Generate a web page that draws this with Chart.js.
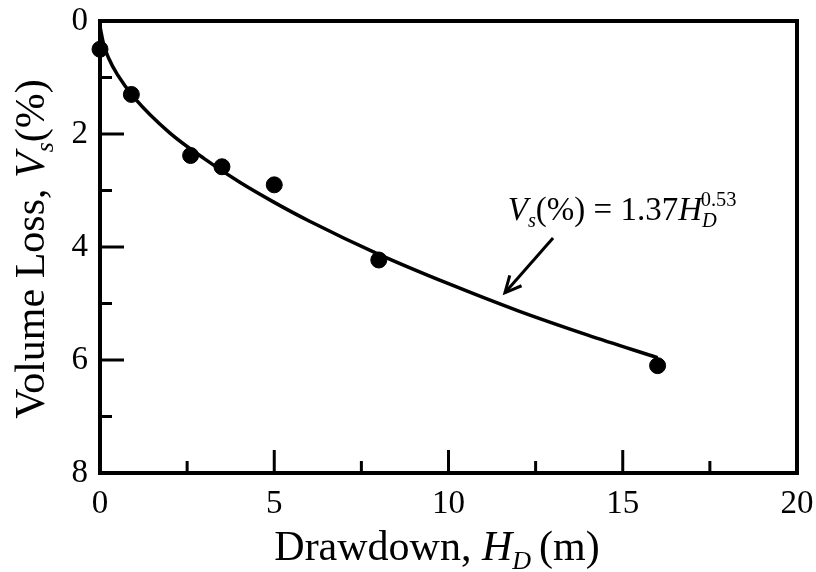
<!DOCTYPE html>
<html>
<head>
<meta charset="utf-8">
<script src="https://cdn.jsdelivr.net/npm/chart.js@4.4.1/dist/chart.umd.min.js"></script>
<style>
  html, body { margin: 0; padding: 0; background: #fff; }
  #wrap { width: 816px; height: 572px; }
</style>
</head>
<body>
<div id="wrap"><canvas id="chart"></canvas></div>
<script>
// Dados
const drawdown = [0, 0.9, 2.6, 3.5, 5, 8, 16];
const volumeLoss = [0.5, 1.3, 2.38, 2.58, 2.9, 4.23, 6.1];

// Curva ajustada
const fitDrawdown = [0, 0.1, 0.25, 0.5, 1, 2, 3, 4, 5, 6, 8, 10, 12, 14, 16];
const fitVolume = [0.1, 0.4, 0.66, 0.95, 1.37, 1.98, 2.44, 2.85, 3.21, 3.54, 4.13, 4.65, 5.13, 5.56, 5.96];

const xTicks = [0, 5, 10, 15, 20];
const yTicks = [0, 2, 4, 6, 8];

const serif = "'Liberation Serif', 'Times New Roman', serif";

// desenha texto com partes em itálico / subscrito / sobrescrito
function richText(ctx, runs, x, y, size, align) {
  const parts = runs.map(r => {
    const s = r.small ? size * 0.62 : size;
    ctx.font = (r.italic ? "italic " : "") + s + "px " + serif;
    return { r, s, w: ctx.measureText(r.t).width };
  });
  const total = parts.reduce((a, p) => a + p.w + (p.r.gap || 0), 0);
  let cx = align === "center" ? x - total / 2 : x;
  parts.forEach(p => {
    ctx.font = (p.r.italic ? "italic " : "") + p.s + "px " + serif;
    let dy = 0;
    if (p.r.sub) dy = size * 0.22;
    if (p.r.sup) dy = -size * 0.42;
    ctx.fillText(p.r.t, cx, y + dy);
    cx += p.w + (p.r.gap || 0);
  });
}

const decorPlugin = {
  id: "decor",
  afterDraw(chart) {
    const ctx = chart.ctx;
    const area = chart.chartArea;
    const xs = chart.scales.x;
    const ys = chart.scales.y;
    ctx.save();
    ctx.strokeStyle = "#000";
    ctx.fillStyle = "#000";

    // ticks para dentro
    ctx.lineWidth = 3;
    ys.ticks.forEach(t => {
      const py = ys.getPixelForValue(t.value);
      const len = t.value % 2 === 0 ? 24 : 12;
      ctx.beginPath();
      ctx.moveTo(area.left, py);
      ctx.lineTo(area.left + len, py);
      ctx.stroke();
    });
    xs.ticks.forEach(t => {
      const px = xs.getPixelForValue(t.value);
      const len = t.value % 5 === 0 ? 23 : 12;
      ctx.beginPath();
      ctx.moveTo(px, area.bottom);
      ctx.lineTo(px, area.bottom - len);
      ctx.stroke();
    });

    // moldura
    ctx.lineWidth = 4;
    ctx.strokeRect(area.left, area.top, area.right - area.left, area.bottom - area.top);

    // título do eixo x
    ctx.textBaseline = "alphabetic";
    richText(ctx, [
      { t: "Drawdown, " },
      { t: "H", italic: true },
      { t: "D", italic: true, small: true, sub: true, gap: 8 },
      { t: "(m)" }
    ], 437, 560, 42, "center");

    // título do eixo y
    ctx.save();
    ctx.translate(44, 249);
    ctx.rotate(-Math.PI / 2);
    richText(ctx, [
      { t: "Volume Loss, " },
      { t: "V", italic: true },
      { t: "s", italic: true, small: true, sub: true },
      { t: "(%)" }
    ], 0, 0, 42, "center");
    ctx.restore();

    // equação
    const ex = xs.getPixelForValue(11.7);
    const ey = ys.getPixelForValue(3.52);
    richText(ctx, [
      { t: "V", italic: true },
      { t: "s", italic: true, small: true, sub: true },
      { t: "(%) = 1.37" },
      { t: "H", italic: true },
      { t: "D", italic: true, small: true, sub: true, gap: -16 },
      { t: "0.53", small: true, sup: true }
    ], ex, ey, 33, "left");

    // seta
    const ax1 = xs.getPixelForValue(13.0), ay1 = ys.getPixelForValue(3.84);
    const ax2 = xs.getPixelForValue(11.62), ay2 = ys.getPixelForValue(4.81);
    ctx.lineWidth = 3;
    ctx.beginPath();
    ctx.moveTo(ax1, ay1);
    ctx.lineTo(ax2, ay2);
    ctx.stroke();
    const ang = Math.atan2(ay2 - ay1, ax2 - ax1);
    ctx.beginPath();
    ctx.moveTo(ax2 - 18 * Math.cos(ang - 0.45), ay2 - 18 * Math.sin(ang - 0.45));
    ctx.lineTo(ax2, ay2);
    ctx.lineTo(ax2 - 18 * Math.cos(ang + 0.45), ay2 - 18 * Math.sin(ang + 0.45));
    ctx.stroke();
    ctx.restore();
  }
};

new Chart(document.getElementById("chart"), {
  type: "scatter",
  data: {
    datasets: [
      {
        label: "fit",
        data: fitDrawdown.map((x, i) => ({ x, y: fitVolume[i] })),
        showLine: true,
        borderColor: "#000",
        borderWidth: 3.5,
        pointRadius: 0,
        cubicInterpolationMode: "monotone"
      },
      {
        label: "medido",
        data: drawdown.map((x, i) => ({ x, y: volumeLoss[i] })),
        pointRadius: 8,
        pointBackgroundColor: "#000",
        pointBorderColor: "#000",
        clip: false
      }
    ]
  },
  plugins: [decorPlugin],
  options: {
    responsive: true,
    maintainAspectRatio: false,
    animation: false,
    layout: { padding: { top: 21, right: 19, left: 0, bottom: 0 } },
    plugins: { legend: { display: false }, tooltip: { enabled: false } },
    scales: {
      x: {
        type: "linear",
        min: 0,
        max: 20,
        afterFit: s => { s.height = 99; s.paddingLeft = 0; s.paddingRight = 0; },
        grid: { display: false, drawTicks: false },
        border: { display: false },
        ticks: {
          stepSize: 2.5,
          padding: 12,
          color: "#000",
          font: { family: serif, size: 33 },
          maxRotation: 0,
          callback: v => xTicks.includes(v) ? String(v) : ""
        }
      },
      y: {
        reverse: true,
        min: 0,
        max: 8,
        afterFit: s => { s.width = 100; s.paddingTop = 0; s.paddingBottom = 0; },
        grid: { display: false, drawTicks: false },
        border: { display: false },
        ticks: {
          stepSize: 1,
          padding: 12,
          color: "#000",
          font: { family: serif, size: 33 },
          callback: v => yTicks.includes(v) ? String(v) : ""
        }
      }
    }
  }
});
</script>
</body>
</html>
